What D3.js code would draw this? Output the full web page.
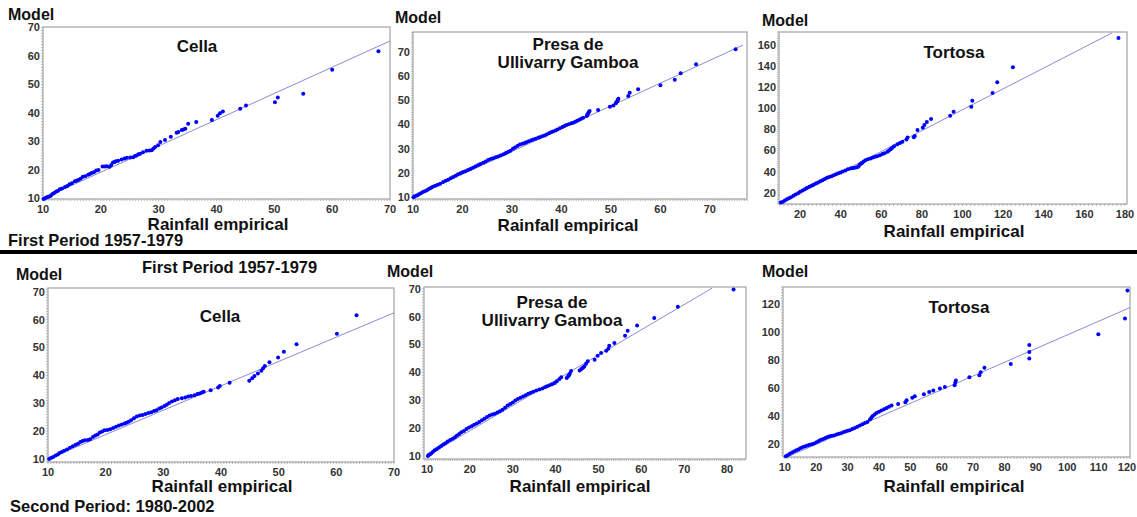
<!DOCTYPE html>
<html lang="en">
<head>
    <meta charset="UTF-8">
    <title>Rainfall QQ plots</title>
    <script src="https://d3js.org/d3.v7.min.js"></script>
    <style>
        body { margin: 0; background: #fff; }
        svg text { font-family: 'Liberation Sans', Arial, sans-serif; font-weight: bold; }
        .tick-label { font-size: 11px; fill: #333; }
        .model { font-size: 16px; fill: #111; }
        .title { font-size: 17px; fill: #111; }
        .xlab { font-size: 17px; fill: #111; }
        .period { font-size: 16.5px; fill: #111; }
    </style>
</head>
<body>
<div id="chart"></div>
<script>
    // points: [empirical, model]
    const cella1 = [[10.1,9.8],[10.3,10.0],[10.5,10.2],[10.7,10.4],[10.9,10.6],[11.2,10.8],[11.4,11.1],[11.7,11.6],[12.0,12.0],[12.3,12.4],[12.6,12.7],[12.9,13.2],[13.3,13.5],[13.8,14.0],[14.2,14.4],[14.6,15.0],[15.0,15.3],[15.5,16.0],[15.8,16.2],[16.1,16.5],[16.5,16.9],[16.9,17.6],[17.3,17.8],[17.8,18.3],[18.1,18.6],[18.4,18.9],[18.8,19.2],[19.2,19.8],[19.6,20.0],[20.3,21.2],[20.7,21.2],[21.0,21.3],[21.5,21.1],[21.8,21.7],[22.1,22.6],[22.4,22.8],[22.6,23.1],[23.0,23.2],[23.6,23.7],[24.1,24.0],[24.5,24.3],[25.1,24.4],[25.6,24.5],[25.9,24.9],[26.2,25.1],[26.5,25.5],[26.8,25.7],[27.3,26.2],[27.9,26.7],[28.4,26.8],[28.8,26.9],[29.1,27.5],[29.4,28.1],[29.9,28.7],[30.3,29.8],[31.1,30.5],[32.1,31.7],[33.1,33.1],[33.4,33.3],[34.0,34.0],[34.3,34.2],[34.6,34.5],[35.1,36.2],[36.5,36.8],[39.2,37.5],[40.2,39.0],[40.6,39.9],[41.1,40.5],[44.1,41.5],[45.1,42.6],[50.1,43.8],[50.6,45.4],[55.0,46.8],[60.0,55.2],[68.0,61.7]];
    const presa1 = [[10.1,9.9],[10.3,10.2],[10.6,10.5],[10.9,10.8],[11.2,11.2],[11.6,11.6],[12.0,12.1],[12.4,12.4],[12.8,12.8],[13.2,13.3],[13.6,13.8],[14.0,14.3],[14.5,14.7],[15.0,15.1],[15.5,15.5],[16.1,16.2],[16.6,16.7],[17.1,17.2],[17.6,17.8],[18.1,18.3],[18.6,18.8],[19.1,19.4],[19.6,19.9],[20.1,20.4],[20.6,20.7],[21.1,21.2],[21.6,21.6],[22.1,22.1],[22.6,22.6],[23.1,23.2],[23.6,23.7],[24.2,24.2],[24.7,24.7],[25.2,25.3],[25.7,25.7],[26.2,26.1],[26.7,26.5],[27.2,26.8],[27.7,27.2],[28.2,27.6],[28.6,28.0],[28.9,28.3],[29.3,28.7],[29.7,29.2],[30.2,30.0],[30.6,30.5],[31.1,31.1],[31.6,31.7],[32.1,32.1],[32.6,32.4],[32.9,32.7],[33.4,33.1],[33.9,33.5],[34.3,33.8],[34.8,34.1],[35.3,34.5],[35.6,34.8],[36.1,35.2],[36.6,35.5],[37.0,35.9],[37.5,36.4],[37.9,36.8],[38.3,37.1],[38.8,37.5],[39.2,38.0],[39.7,38.5],[40.2,39.0],[40.6,39.4],[41.0,39.8],[41.5,40.1],[42.0,40.5],[42.4,40.7],[42.8,41.2],[43.2,41.6],[43.6,42.0],[44.0,42.4],[44.4,42.8],[45.1,43.5],[45.2,44.0],[45.4,44.6],[45.5,45.1],[45.7,45.6],[47.4,46.0],[49.8,47.4],[50.5,47.9],[51.0,48.8],[51.1,49.2],[51.3,49.7],[51.4,50.2],[51.5,50.7],[53.5,51.8],[53.8,53.2],[55.5,54.6],[60.0,56.3],[62.9,58.5],[64.1,61.2],[67.2,65.0],[75.2,71.2]];
    const tortosa1 = [[10.5,11.0],[11.5,11.8],[12.5,12.8],[13.5,14.0],[14.5,15.0],[15.5,16.0],[16.7,17.3],[17.8,18.5],[19.0,19.8],[20.0,21.2],[21.2,22.3],[22.3,23.5],[23.3,24.6],[24.5,25.8],[25.6,26.9],[26.6,27.8],[27.7,28.9],[28.8,30.0],[29.9,31.1],[31.0,32.1],[32.1,33.3],[33.2,34.3],[34.3,35.2],[35.5,35.8],[36.6,36.7],[37.7,37.8],[38.8,38.6],[39.9,39.4],[41.0,40.4],[42.3,41.3],[43.5,42.5],[44.8,43.1],[45.6,43.3],[46.4,43.6],[47.5,44.0],[48.4,44.6],[48.9,45.5],[49.4,46.8],[50.0,47.8],[50.5,48.4],[51.3,49.8],[52.2,51.0],[53.4,51.8],[54.7,52.6],[55.8,53.4],[56.9,54.1],[58.0,54.8],[59.3,55.7],[60.5,56.7],[61.6,57.6],[63.0,58.9],[63.8,60.2],[64.6,61.4],[65.4,62.8],[66.3,64.2],[67.9,66.1],[69.2,67.3],[70.4,68.4],[72.4,70.6],[72.9,72.5],[76.0,72.6],[76.5,73.7],[77.8,79.4],[80.4,81.6],[81.2,84.2],[82.4,87.0],[84.5,89.8],[93.9,93.0],[95.6,96.8],[104.3,101.5],[104.8,107.2],[114.8,114.5],[117.1,124.6],[124.8,138.8],[176.8,166.3]];
    const cella2 = [[10.2,10.0],[10.5,10.3],[10.9,10.7],[11.3,11.2],[11.7,11.6],[12.0,12.1],[12.4,12.5],[12.8,12.9],[13.3,13.4],[13.8,14.0],[14.3,14.6],[14.8,15.1],[15.2,15.5],[15.6,16.1],[16.0,16.4],[16.4,16.7],[16.9,16.8],[17.3,17.1],[17.8,17.9],[18.2,18.4],[18.6,18.8],[19.0,19.5],[19.4,19.9],[19.8,20.3],[20.3,20.4],[20.8,20.7],[21.3,21.1],[21.8,21.6],[22.3,22.0],[22.8,22.4],[23.3,22.7],[23.6,23.0],[24.0,23.4],[24.4,23.9],[24.9,24.6],[25.4,25.2],[25.9,25.6],[26.4,25.8],[26.9,26.1],[27.4,26.5],[27.9,26.8],[28.4,27.2],[28.8,27.5],[29.3,28.1],[29.7,28.5],[30.2,29.0],[30.6,29.5],[31.0,30.1],[31.5,30.6],[32.0,31.1],[32.5,31.5],[33.2,31.8],[33.8,32.1],[34.3,32.4],[34.8,32.6],[35.4,32.9],[35.9,33.3],[36.3,33.5],[36.7,33.9],[37.0,34.1],[38.2,34.7],[39.5,35.7],[39.8,36.2],[41.5,37.4],[44.9,38.1],[45.4,39.0],[45.8,39.8],[46.4,40.7],[47.0,41.7],[47.3,42.6],[47.6,43.4],[48.4,44.7],[49.9,46.4],[50.9,48.5],[53.1,51.2],[60.1,55.0],[63.5,61.6]];
    const presa2 = [[10.2,10.0],[10.4,10.3],[10.7,10.6],[11.0,11.0],[11.4,11.5],[11.8,12.0],[12.3,12.5],[12.8,13.0],[13.3,13.6],[13.8,14.1],[14.3,14.6],[14.8,15.2],[15.4,15.7],[16.0,16.2],[16.5,16.7],[17.0,17.3],[17.5,17.9],[18.0,18.5],[18.6,19.0],[19.2,19.7],[19.8,20.2],[20.4,20.7],[21.0,21.2],[21.6,21.7],[22.2,22.2],[22.8,22.8],[23.4,23.4],[24.0,24.0],[24.6,24.5],[25.2,24.9],[25.8,25.2],[26.4,25.6],[27.0,26.1],[27.6,26.6],[28.2,27.3],[28.8,28.1],[29.4,28.7],[30.0,29.2],[30.6,29.9],[31.2,30.5],[31.8,30.9],[32.4,31.4],[33.0,31.8],[33.6,32.3],[34.2,32.7],[34.8,33.1],[35.5,33.5],[36.2,33.9],[36.9,34.2],[37.5,34.7],[38.0,35.0],[38.6,35.4],[39.2,35.8],[39.8,36.2],[40.3,36.8],[40.9,37.6],[41.3,38.3],[42.6,38.0],[42.9,38.6],[43.1,39.0],[43.3,39.5],[43.6,40.5],[45.6,40.7],[46.0,41.2],[46.2,41.5],[46.5,41.9],[46.7,42.2],[47.1,43.1],[47.5,44.0],[49.1,44.6],[49.8,46.0],[50.6,47.0],[51.8,47.8],[52.3,48.5],[52.5,49.6],[53.7,50.6],[56.2,53.2],[56.8,55.0],[59.0,56.9],[63.0,59.6],[68.5,63.6],[81.5,69.8]];
    const tortosa2 = [[10.3,11.2],[10.9,12.0],[11.6,13.1],[12.3,13.9],[13.0,14.8],[13.7,15.5],[14.4,16.3],[15.1,17.1],[15.8,17.9],[16.5,18.4],[17.2,18.9],[17.9,19.4],[18.6,19.8],[19.3,20.4],[20.1,21.2],[20.8,22.2],[21.5,23.0],[22.2,23.6],[22.9,24.2],[23.6,25.0],[24.3,25.5],[25.0,25.8],[25.7,26.1],[26.5,26.7],[27.2,27.3],[27.9,27.7],[28.6,28.3],[29.3,28.9],[30.0,29.4],[30.7,29.8],[31.5,30.6],[32.3,31.4],[33.1,32.3],[33.9,33.1],[34.7,34.0],[35.5,35.0],[36.3,35.7],[37.1,37.4],[37.5,38.6],[37.9,39.8],[38.6,41.0],[39.2,42.1],[40.0,43.0],[40.8,43.8],[41.6,44.8],[42.4,45.7],[43.2,46.5],[44.0,47.4],[46.1,48.6],[48.4,49.8],[48.8,51.2],[50.6,52.9],[51.4,54.0],[54.3,55.5],[56.0,57.1],[57.3,58.1],[59.4,59.5],[61.0,60.7],[64.1,61.9],[64.3,63.6],[64.5,65.2],[68.8,67.6],[72.0,69.0],[72.4,71.2],[73.6,74.3],[82.0,77.1],[87.9,80.9],[87.9,85.7],[87.9,90.7],[109.9,98.3],[118.4,109.5],[119.2,129.5]];

    // fitted reference lines: [[x0,y0],[x1,y1]]
    const fitCella1 = [[10, 10], [70, 65.3]];
    const fitPresa1 = [[10, 10], [76.7, 72.9]];
    const fitTortosa1 = [[10, 10], [173.5, 171]];
    const fitCella2 = [[10, 10], [70, 62.5]];
    const fitPresa2 = [[10, 10], [76.5, 70.3]];
    const fitTortosa2 = [[10, 10], [120, 117.3]];

    // tick labels
    const ticks10to70 = [10, 20, 30, 40, 50, 60, 70];
    const ticks10to80 = [10, 20, 30, 40, 50, 60, 70, 80];
    const ticks10to120 = [10, 20, 30, 40, 50, 60, 70, 80, 90, 100, 110, 120];
    const ticks20to180 = [20, 40, 60, 80, 100, 120, 140, 160, 180];
    const ticks20to160 = [20, 40, 60, 80, 100, 120, 140, 160];
    const ticks20to120 = [20, 40, 60, 80, 100, 120];

    const stations = ['Cella', 'Presa de|Ullivarry Gamboa', 'Tortosa'];
    const periods = ['First Period 1957-1979', 'Second Period: 1980-2002'];

    const W = 1137, H = 517;
    const svg = d3.select('#chart').append('svg')
        .attr('width', W).attr('height', H);

    // layout of each panel
    const panels = [
        { pts: cella1, fit: fitCella1, title: stations[0], xT: ticks10to70, yT: ticks10to70,
          box: [43, 390, 27, 199], xd: [10, 70], yd: [9.8, 70.2],
          model: [8, 20], tpos: [197, 52], xlab: [218, 230] },
        { pts: presa1, fit: fitPresa1, title: stations[1], xT: ticks10to70, yT: ticks10to70,
          box: [413, 747, 32, 199], xd: [10, 77.5], yd: [9.2, 78.3],
          model: [395, 23], tpos: [568, 50], xlab: [568, 231] },
        { pts: tortosa1, fit: fitTortosa1, title: stations[2], xT: ticks20to180, yT: ticks20to160,
          box: [779, 1127, 32, 204], xd: [9.6, 181], yd: [9.6, 172],
          model: [762, 26], tpos: [954, 58], xlab: [954, 237] },
        { pts: cella2, fit: fitCella2, title: stations[0], xT: ticks10to70, yT: ticks10to70,
          box: [48, 394, 288, 462], xd: [10, 70], yd: [8.9, 71.4],
          model: [16, 280], tpos: [220, 322], xlab: [222, 492] },
        { pts: presa2, fit: fitPresa2, title: stations[1], xT: ticks10to80, yT: ticks10to70,
          box: [424, 746, 287, 459], xd: [9.3, 84.4], yd: [8.9, 70.7],
          model: [387, 277], tpos: [552, 308], xlab: [580, 492] },
        { pts: tortosa2, fit: fitTortosa2, title: stations[2], xT: ticks10to120, yT: ticks20to120,
          box: [783, 1130, 287, 457], xd: [9.4, 120], yd: [10.7, 132],
          model: [762, 277], tpos: [959, 313], xlab: [954, 492] }
    ];

    panels.forEach(p => {
        const [x0, x1, y0, y1] = p.box;
        const x = d3.scaleLinear().domain(p.xd).range([x0, x1]);
        const y = d3.scaleLinear().domain(p.yd).range([y1, y0]);
        const g = svg.append('g');

        // minor ticks along left and bottom
        g.selectAll('.mx').data(x.ticks(Math.round((x1 - x0) / 3))).enter().append('line')
            .attr('x1', d => x(d)).attr('x2', d => x(d))
            .attr('y1', y1).attr('y2', y1 + 2)
            .attr('stroke', '#999').attr('stroke-width', 0.7);
        g.selectAll('.my').data(y.ticks(Math.round((y1 - y0) / 3))).enter().append('line')
            .attr('y1', d => y(d)).attr('y2', d => y(d))
            .attr('x1', x0 - 2).attr('x2', x0)
            .attr('stroke', '#999').attr('stroke-width', 0.7);

        // frame
        g.append('rect')
            .attr('x', x0).attr('y', y0)
            .attr('width', x1 - x0).attr('height', y1 - y0)
            .attr('fill', 'none').attr('stroke', '#aaa').attr('stroke-width', 1.3);

        // tick labels (keep the last one inside the page)
        g.selectAll('.xl').data(p.xT).enter().append('text')
            .attr('class', 'tick-label')
            .attr('x', d => Math.min(x(d), W - 10)).attr('y', y1 + 14)
            .attr('text-anchor', 'middle')
            .text(d => d);
        g.selectAll('.yl').data(p.yT).enter().append('text')
            .attr('class', 'tick-label')
            .attr('x', x0 - 3).attr('y', d => y(d))
            .attr('dy', '0.35em')
            .attr('text-anchor', 'end')
            .text(d => d);

        // fitted line
        const clip = 'clip' + x0 + '_' + y0;
        svg.append('clipPath').attr('id', clip).append('rect')
            .attr('x', x0).attr('y', y0).attr('width', x1 - x0).attr('height', y1 - y0);
        g.append('path')
            .attr('d', d3.line().x(d => x(d[0])).y(d => y(d[1]))(p.fit))
            .attr('clip-path', `url(#${clip})`)
            .attr('fill', 'none').attr('stroke', '#8a8ad8').attr('stroke-width', 1);

        // points
        g.selectAll('.pt').data(p.pts).enter().append('circle')
            .attr('cx', d => x(d[0])).attr('cy', d => y(d[1]))
            .attr('r', 2)
            .attr('fill', '#0000ff');

        // labels
        g.append('text').attr('class', 'model')
            .attr('x', p.model[0]).attr('y', p.model[1]).text('Model');
        const lines = p.title.split('|');
        g.selectAll('.tt').data(lines).enter().append('text')
            .attr('class', 'title')
            .attr('x', p.tpos[0]).attr('y', (d, i) => p.tpos[1] + i * 18)
            .attr('text-anchor', 'middle')
            .text(d => d);
        g.append('text').attr('class', 'xlab')
            .attr('x', p.xlab[0]).attr('y', p.xlab[1])
            .attr('text-anchor', 'middle')
            .text('Rainfall empirical');
    });

    // period captions and divider
    svg.append('text').attr('class', 'period').attr('x', 8).attr('y', 246).text(periods[0]);
    svg.append('line')
        .attr('x1', 0).attr('x2', W).attr('y1', 252).attr('y2', 252)
        .attr('stroke', '#000').attr('stroke-width', 4);
    svg.append('text').attr('class', 'period').attr('x', 142).attr('y', 273).text(periods[0]);
    svg.append('text').attr('class', 'period').attr('x', 10).attr('y', 512).text(periods[1]);
</script>
</body>
</html>
